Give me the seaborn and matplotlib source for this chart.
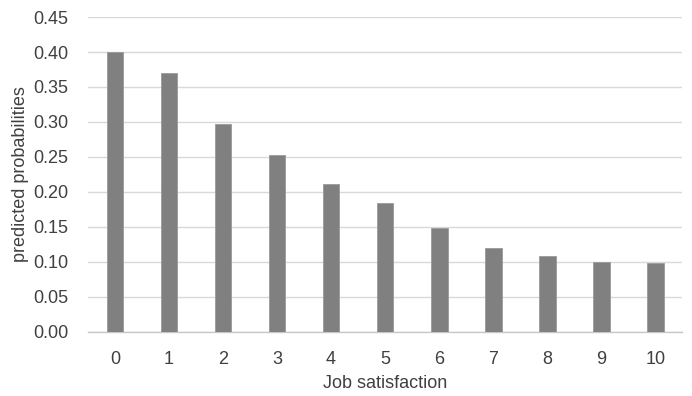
import matplotlib
matplotlib.use('Agg')
import matplotlib.pyplot as plt
import seaborn as sns
import pandas as pd

satisfaction = ['0', '1', '2', '3', '4', '5', '6', '7', '8', '9', '10']
probs = [0.400, 0.370, 0.297, 0.253, 0.211, 0.184, 0.149, 0.120, 0.109, 0.100, 0.098]

df = pd.DataFrame({'Job satisfaction': satisfaction, 'predicted probabilities': probs})

sns.set_style('white')
plt.rcParams['font.family'] = ['Liberation Sans', 'DejaVu Sans']

fig = plt.figure(figsize=(6.92, 3.96), dpi=100)
ax = fig.add_axes([0.127, 0.162, 0.859, 0.795])
sns.barplot(data=df, x='Job satisfaction', y='predicted probabilities', color='#808080',
            width=0.31, saturation=1, edgecolor='#999999', linewidth=0.6, ax=ax, zorder=3)

ax.set_ylim(0, 0.45)
ax.set_yticks([i * 0.05 for i in range(10)])
ax.set_yticklabels([f'{i * 0.05:.2f}' for i in range(10)])
ax.yaxis.grid(True, color='#d9d9d9', linewidth=1, zorder=0)
ax.set_axisbelow(True)
for s in ['top', 'right', 'left']:
    ax.spines[s].set_visible(False)
ax.spines['bottom'].set_color('#c8c8c8')
ax.spines['bottom'].set_linewidth(1)
ax.tick_params(axis='both', length=0, labelsize=13, colors='#404040')
ax.tick_params(axis='x', pad=14)
ax.tick_params(axis='y', pad=14)
ax.set_xlabel('Job satisfaction', fontsize=13, color='#404040', labelpad=5)
ax.set_ylabel('predicted probabilities', fontsize=13, color='#404040', labelpad=3)

plt.savefig('out.png', dpi=100)
